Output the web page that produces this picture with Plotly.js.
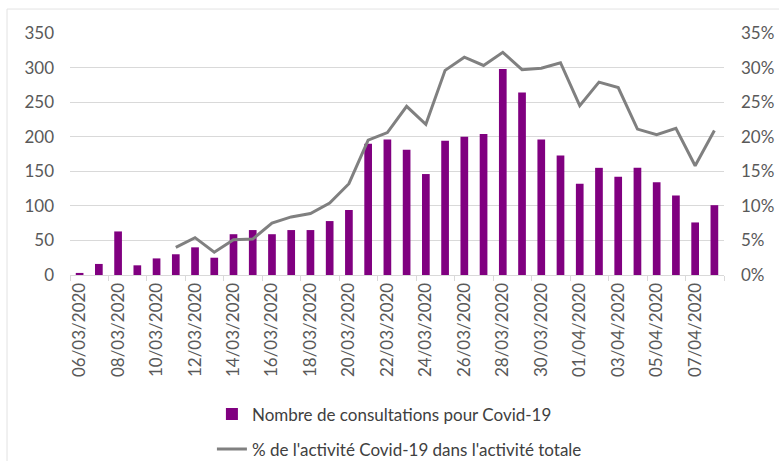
<!DOCTYPE html>
<html>
<head>
<meta charset="utf-8">
<script src="https://cdn.plot.ly/plotly-3.0.1.min.js"></script>
<style>html,body{margin:0;padding:0;background:#fff;}#chart{width:779px;height:461px;}</style>
</head>
<body>
<div id="chart"></div>
<script>
const dates = ["06/03/2020","07/03/2020","08/03/2020","09/03/2020","10/03/2020","11/03/2020","12/03/2020","13/03/2020","14/03/2020","15/03/2020","16/03/2020","17/03/2020","18/03/2020","19/03/2020","20/03/2020","21/03/2020","22/03/2020","23/03/2020","24/03/2020","25/03/2020","26/03/2020","27/03/2020","28/03/2020","29/03/2020","30/03/2020","31/03/2020","01/04/2020","02/04/2020","03/04/2020","04/04/2020","05/04/2020","06/04/2020","07/04/2020","08/04/2020"];
const consultations = [3,16,63,14,24,30,40,25,59,65,59,65,65,78,94,190,196,181,146,194,200,204,298,264,196,173,132,155,142,155,134,115,76,101];
const pctActivite = [null,null,null,null,null,4.0,5.4,3.3,5.1,5.2,7.5,8.4,8.9,10.4,13.2,19.5,20.6,24.4,21.8,29.6,31.5,30.3,32.2,29.7,29.9,30.7,24.5,27.9,27.1,21.1,20.3,21.2,15.8,20.9];
const barName = "Nombre de consultations pour Covid-19";
const lineName = "% de l'activité Covid-19 dans l'activité totale";

const fontFam = "Lato, 'Open Sans', sans-serif";
const traces = [
  {type:"bar", x:dates, y:consultations, name:barName, marker:{color:"#800080"}, legendgroup:"a"},
  {type:"scatter", mode:"lines", x:dates, y:pctActivite, name:lineName, yaxis:"y2",
   line:{color:"#808080", width:3}, connectgaps:false, legendgroup:"b"}
];
const layout = {
  width:779, height:461,
  margin:{l:70, r:55, t:33, b:186},
  paper_bgcolor:"#fff", plot_bgcolor:"#fff",
  font:{family:fontFam, color:"#595959", size:17},
  bargap:0.6,
  showlegend:true,
  xaxis:{type:"category", tickangle:-90, dtick:2, tickson:"boundaries", ticks:"outside", ticklen:5,
         tickcolor:"#d9d9d9", showgrid:false, showline:true, linecolor:"#d9d9d9", linewidth:1,
         tickfont:{size:17, color:"#595959"}, automargin:false},
  yaxis:{range:[0,350], dtick:50, showgrid:true, gridcolor:"#d9d9d9", zeroline:false,
         ticks:"", ticklabelstandoff:15, tickfont:{size:17, color:"#595959"}, automargin:false},
  yaxis2:{range:[0,35], dtick:5, ticksuffix:"%", overlaying:"y", side:"right", showgrid:false,
          zeroline:false, ticks:"", ticklabelstandoff:16, tickfont:{size:17, color:"#595959"}, automargin:false},
  legend:{orientation:"v", x:0.217, xanchor:"left", yref:"container", y:0.14, yanchor:"top",
          traceorder:"grouped", tracegroupgap:10, font:{size:17, color:"#404040"}, bgcolor:"rgba(0,0,0,0)"},
  shapes:[{type:"rect", xref:"paper", yref:"paper", x0:-0.0963, x1:1.2, y0:-1, y1:1.099,
           line:{color:"#e3e3e3", width:1}, fillcolor:"rgba(0,0,0,0)", layer:"below"}]
};
Plotly.newPlot("chart", traces, layout, {displayModeBar:false, staticPlot:true});
</script>
</body>
</html>
